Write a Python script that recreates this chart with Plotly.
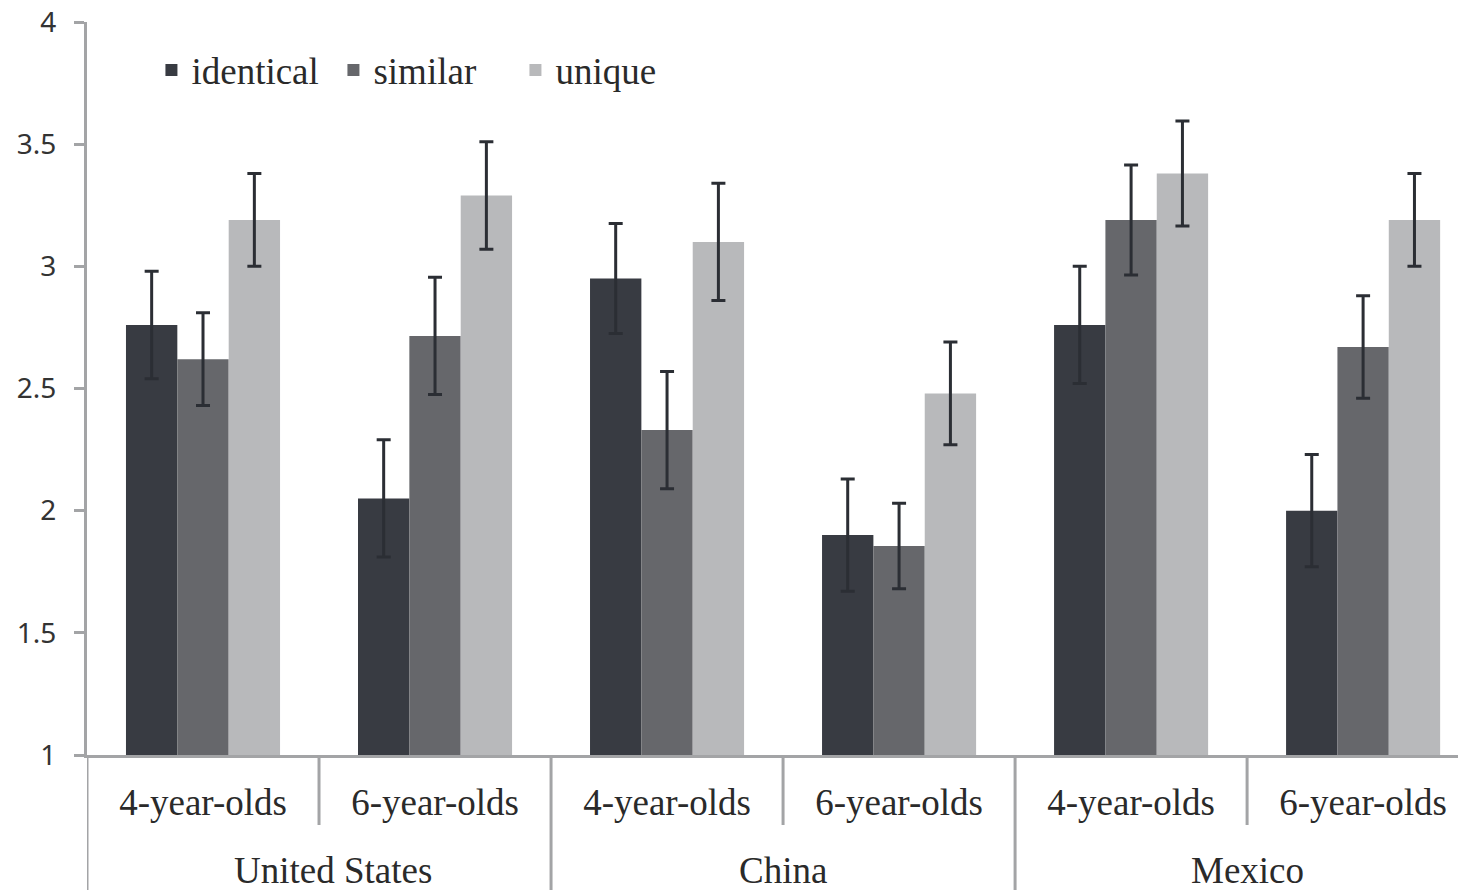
import plotly.graph_objects as go

countries = ["United States", "China", "Mexico"]
ages = ["4-year-olds", "6-year-olds"]
group_labels = ["4-year-olds", "6-year-olds", "4-year-olds", "6-year-olds", "4-year-olds", "6-year-olds"]
positions = [0, 1, 2, 3, 4, 5]

identical = [2.76, 2.05, 2.95, 1.90, 2.76, 2.00]
identical_err = [0.22, 0.24, 0.225, 0.23, 0.24, 0.23]
similar = [2.62, 2.715, 2.33, 1.855, 3.19, 2.67]
similar_err = [0.19, 0.24, 0.24, 0.175, 0.225, 0.21]
unique = [3.19, 3.29, 3.10, 2.48, 3.38, 3.19]
unique_err = [0.19, 0.22, 0.24, 0.21, 0.215, 0.19]

country_pos = [0.5, 2.5, 4.5]
inner_dividers = [0.5, 2.5, 4.5]
outer_dividers = [-0.5, 1.5, 3.5]

series = [
    ("identical", identical, identical_err, "#383b42"),
    ("similar", similar, similar_err, "#66676b"),
    ("unique", unique, unique_err, "#b8b9bb"),
]

serif = "Liberation Serif"
sans = "Noto Sans"
axis_gray = "#a3a4a6"

fig = go.Figure()
for name, vals, errs, col in series:
    fig.add_trace(go.Bar(
        x=positions, y=[v - 1 for v in vals], base=1, name=name,
        marker=dict(color=col, line=dict(width=0)),
        error_y=dict(type="data", array=errs, visible=True,
                     color="#2b2e34", thickness=3, width=7),
    ))

plot_h = 733
bottom_px = 135

shapes = []
for d in inner_dividers:
    shapes.append(dict(type="line", xref="x", yref="paper", x0=d, x1=d,
                       y0=0, y1=-70 / plot_h, line=dict(color=axis_gray, width=3)))
for d in outer_dividers:
    shapes.append(dict(type="line", xref="x", yref="paper", x0=d, x1=d,
                       y0=0, y1=-bottom_px / plot_h, line=dict(color=axis_gray, width=3)))

annotations = []
for c, p in zip(countries, country_pos):
    annotations.append(dict(x=p, y=-115 / plot_h, xref="x", yref="paper", text=c,
                            showarrow=False, xanchor="center", yanchor="middle",
                            xshift=14 if c == "United States" else 0,
                            font=dict(family=serif, size=37, color="#2a2a2a")))

fig.update_layout(
    width=1458, height=890,
    margin=dict(l=87, r=0, t=22, b=bottom_px, autoexpand=False),
    paper_bgcolor="white", plot_bgcolor="white",
    barmode="group", bargap=0.336, bargroupgap=0,
    showlegend=True,
    legend=dict(orientation="h", x=0.047, y=0.934, xanchor="left", yanchor="middle",
                font=dict(family=serif, size=37, color="#2a2a2a"),
                entrywidth=137, entrywidthmode="pixels",
                bgcolor="rgba(0,0,0,0)", traceorder="normal"),
    shapes=shapes,
    annotations=annotations,
    xaxis=dict(range=[-0.5, 5.409], tickmode="array", tickvals=positions, ticktext=group_labels,
               showgrid=False, zeroline=False, showline=True, linecolor=axis_gray, linewidth=3,
               ticks="", tickfont=dict(family=serif, size=37, color="#2a2a2a"),
               ticklabelstandoff=13, automargin=False),
    yaxis=dict(range=[1, 4], tickmode="array", tickvals=[1, 1.5, 2, 2.5, 3, 3.5, 4],
               ticktext=["1", "1.5", "2", "2.5", "3", "3.5", "4"],
               showgrid=False, zeroline=False, showline=True, linecolor=axis_gray, linewidth=3,
               ticks="outside", ticklen=10, tickwidth=3, tickcolor=axis_gray,
               ticklabeloverflow="allow", automargin=False,
               tickfont=dict(family=sans, size=28, color="#333333"), ticklabelstandoff=12),
)

fig.write_html("out.html", config={"displayModeBar": False},
               post_script="document.body.style.margin='0';document.body.style.overflow='hidden';")
